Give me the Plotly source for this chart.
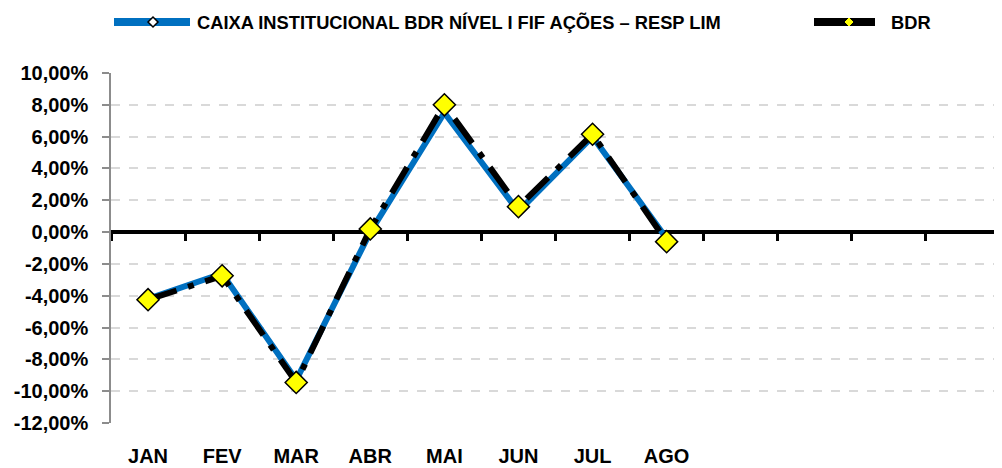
import plotly.graph_objects as go

months = ["JAN", "FEV", "MAR", "ABR", "MAI", "JUN", "JUL", "AGO"]
n_slots = 12
fund_name = "CAIXA INSTITUCIONAL BDR NÍVEL I FIF AÇÕES – RESP LIM"
bdr_name = "BDR"
fund = [-4.2, -2.6, -9.3, 0.0, 7.5, 1.3, 6.0, -0.4]
bdr = [-4.25, -2.75, -9.45, 0.2, 8.0, 1.6, 6.15, -0.6]
y_ticks = [10, 8, 6, 4, 2, 0, -2, -4, -6, -8, -10, -12]
y_labels = ["10,00%", "8,00%", "6,00%", "4,00%", "2,00%", "0,00%", "-2,00%",
            "-4,00%", "-6,00%", "-8,00%", "-10,00%", "-12,00%"]

FONT = "Liberation Sans"
BLUE = "#0070C0"
OFF = 8  # page body margin
W, H = 994, 460
# plot area in reference page pixels: left 111, right 1000, top 73, bottom 423
ML, MT = 111 - OFF, 73 - OFF
MR = W - (1000 - OFF)
MB = H - (423 - OFF)
PW, PH = W - ML - MR, H - MT - MB

x = list(range(len(months)))

fig = go.Figure()
fig.add_trace(go.Scatter(x=x, y=fund, mode="lines", name=fund_name,
                         line=dict(color=BLUE, width=6), showlegend=False))
fig.add_trace(go.Scatter(x=x, y=bdr, mode="lines+markers", name=bdr_name,
                         line=dict(color="black", width=6, dash="longdashdot"),
                         marker=dict(symbol="diamond", size=17, color="#FFFF00",
                                     line=dict(color="black", width=1.5)),
                         showlegend=False))

ymin, ymax = -12, 10
fig.update_layout(
    width=W, height=H, margin=dict(l=ML, r=MR, t=MT, b=MB, autoexpand=False),
    paper_bgcolor="white", plot_bgcolor="white",
    font=dict(family=FONT, color="black"),
    xaxis=dict(range=[-0.5, n_slots - 0.5], tickmode="array", tickvals=x, ticktext=months,
               showline=False, showgrid=False, zeroline=False, ticks="",
               tickfont=dict(family=FONT, size=20, weight="bold"),
               ticklabelstandoff=19, automargin=False),
    xaxis2=dict(range=[-0.5, n_slots - 0.5], overlaying="x", anchor="free",
                position=(0 - ymin) / (ymax - ymin), side="bottom",
                showline=True, linecolor="black", linewidth=4,
                ticks="outside", ticklen=7, tickwidth=3, tickcolor="black",
                tickmode="array", tickvals=[i - 0.5 for i in range(n_slots + 1)],
                showticklabels=False, showgrid=False, zeroline=False,
                layer="below traces"),
    yaxis=dict(range=[ymin, ymax], tickmode="array", tickvals=y_ticks, ticktext=y_labels,
               showline=True, linecolor="#8c8c8c", linewidth=1.5,
               ticks="outside", ticklen=7, tickwidth=1.5, tickcolor="#8c8c8c",
               showgrid=True, gridcolor="#d9d9d9", griddash="dash", gridwidth=1.5,
               zeroline=False, tickfont=dict(family=FONT, size=20, weight="bold"),
               ticklabelstandoff=10, automargin=False),
)

fig.add_trace(go.Scatter(x=[None], y=[None], xaxis="x2", showlegend=False))


def px(xp):
    return (xp - OFF - ML) / PW


def py(yp):
    return (H - MB - (yp - OFF)) / PH


shapes = []
ly = 22
shapes.append(dict(type="line", xref="paper", yref="paper", x0=px(114), x1=px(190),
                   y0=py(ly), y1=py(ly), line=dict(color=BLUE, width=8)))
d = 5
cx = 153
shapes.append(dict(type="path", xref="paper", yref="paper",
                   path=f"M {px(cx-d)} {py(ly)} L {px(cx)} {py(ly-d)} L {px(cx+d)} {py(ly)} L {px(cx)} {py(ly+d)} Z",
                   fillcolor="white", line=dict(color="black", width=1.5)))
shapes.append(dict(type="line", xref="paper", yref="paper", x0=px(814), x1=px(875),
                   y0=py(ly), y1=py(ly), line=dict(color="black", width=8)))
cx = 849
d = 4
shapes.append(dict(type="path", xref="paper", yref="paper",
                   path=f"M {px(cx-d)} {py(ly)} L {px(cx)} {py(ly-d)} L {px(cx+d)} {py(ly)} L {px(cx)} {py(ly+d)} Z",
                   fillcolor="#FFFF00", line=dict(color="#FFFF00", width=1)))
fig.update_layout(shapes=shapes)

fig.add_annotation(x=px(195), y=py(ly), xref="paper", yref="paper", text=fund_name,
                   showarrow=False, xanchor="left", yanchor="middle",
                   font=dict(family=FONT, size=18.3, weight="bold"))
fig.add_annotation(x=px(889), y=py(ly), xref="paper", yref="paper", text=bdr_name,
                   showarrow=False, xanchor="left", yanchor="middle",
                   font=dict(family=FONT, size=18.3, weight="bold"))

fig.write_html("out.html")
